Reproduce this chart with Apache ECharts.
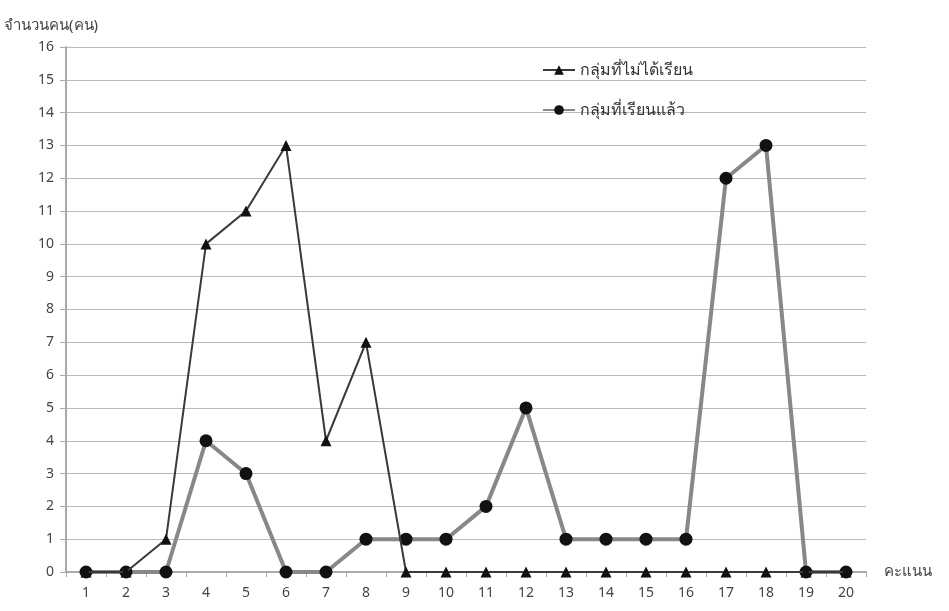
<!DOCTYPE html>
<html><head><meta charset="utf-8">
<script src="https://cdn.jsdelivr.net/npm/echarts@6/dist/echarts.min.js"></script>
<style>html,body{margin:0;padding:0;background:#fff}#c{width:949px;height:611px}</style>
</head><body><div id="c"></div>
<script>
const categories = ['1','2','3','4','5','6','7','8','9','10','11','12','13','14','15','16','17','18','19','20'];
const notStudied = [0,0,1,10,11,13,4,7,0,0,0,0,0,0,0,0,0,0,0,0];
const studied = [0,0,0,4,3,0,0,1,1,1,2,5,1,1,1,1,12,13,0,0];
const seriesNames = ['กลุ่มที่ไม่ได้เรียน','กลุ่มที่เรียนแล้ว'];
const yName = 'จำนวนคน(คน)';
const xName = 'คะแนน';

const font = '"Noto Sans", "DejaVu Sans", sans-serif';
const chart = echarts.init(document.getElementById('c'));
chart.setOption({
  animation:false,
  textStyle:{fontFamily:font},
  grid:{left:66,right:83,top:47,bottom:39,containLabel:false},
  legend:{
    orient:'vertical',left:537,top:57,itemGap:24,itemWidth:32,itemHeight:12,
    textStyle:{fontSize:16,color:'#333',fontFamily:font},
    data:seriesNames
  },
  xAxis:{
    type:'category',data:categories,boundaryGap:true,
    name:xName,nameLocation:'end',nameGap:18,
    nameTextStyle:{fontSize:15,color:'#444',verticalAlign:'middle'},
    axisLine:{lineStyle:{color:'#aaa',width:2}},
    axisTick:{show:true,inside:false,length:5,lineStyle:{color:'#aaa'}},
    axisLabel:{fontSize:14,color:'#444',margin:14},
    splitLine:{show:false}
  },
  yAxis:{
    type:'value',min:0,max:16,interval:1,
    name:yName,nameLocation:'end',nameGap:14,
    nameTextStyle:{fontSize:15,color:'#444',align:'left',padding:[0,0,0,-62]},
    axisLine:{show:true,lineStyle:{color:'#aaa',width:2}},
    axisTick:{show:true,length:6,lineStyle:{color:'#aaa'}},
    axisLabel:{fontSize:14,color:'#444',margin:12},
    splitLine:{lineStyle:{color:'#bbb',width:1}}
  },
  series:[
    {name:seriesNames[0],type:'line',data:notStudied,symbol:'triangle',symbolSize:11,
     lineStyle:{color:'#3a3a3a',width:2},itemStyle:{color:'#111'},z:3},
    {name:seriesNames[1],type:'line',data:studied,symbol:'circle',symbolSize:13,
     lineStyle:{color:'#888',width:4},itemStyle:{color:'#111'},z:2}
  ]
});
</script></body></html>
